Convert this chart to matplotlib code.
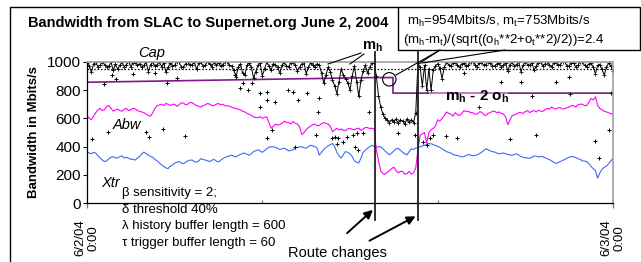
import matplotlib
matplotlib.use("Agg")
import matplotlib.pyplot as plt
from matplotlib.patches import Rectangle, Circle

plt.rcParams['font.family'] = ['Liberation Sans', 'DejaVu Sans']
plt.rcParams['mathtext.fontset'] = 'custom'
plt.rcParams['mathtext.rm'] = 'Liberation Sans'
plt.rcParams['mathtext.bf'] = 'Liberation Sans:bold'

# samples every 6 minutes from 6/2/04 0:00 to 6/3/04 0:00, Mbits/s
hours = [i / 10 for i in range(241)]

cap_v = [990, 970, 925, 985, 995, 965, 975, 1000, 980, 960,
         970, 995, 940, 985, 945, 975, 995, 965, 980, 1000,
         965, 990, 1000, 975, 985, 960, 975, 995, 930, 980,
         995, 970, 980, 1000, 965, 990, 925, 960, 990, 970,
         975, 1000, 995, 965, 960, 985, 1000, 975, 980, 995,
         945, 990, 995, 970, 975, 1000, 985, 965, 1000, 975,
         990, 970, 980, 995, 1000, 975, 970, 940, 895, 960,
         985, 920, 905, 975, 990, 960, 885, 930, 975, 990,
         900, 950, 995, 970, 940, 985, 980, 960, 920, 975,
         995, 970, 965, 990, 1000, 975, 935, 960, 985, 995,
         915, 960, 990, 975, 960, 985, 975, 920, 850, 905,
         960, 930, 870, 830, 775, 860, 950, 905, 880, 850,
         800, 900, 970, 860, 755, 870, 935, 975, 920, 960,
         990, 995, 900, 760, 680, 630, 600, 585, 570, 590,
         575, 595, 565, 590, 580, 560, 595, 575, 590, 570,
         640, 990, 960, 830, 975, 800, 950, 800, 940, 970,
         985, 955, 880, 960, 995, 980, 970, 990, 1000, 975,
         960, 985, 990, 970, 975, 995, 1000, 980, 965, 990,
         995, 975, 980, 1000, 990, 970, 970, 985, 990, 965,
         975, 990, 935, 980, 995, 970, 980, 1000, 930, 975,
         1000, 980, 975, 990, 940, 970, 990, 1000, 970, 985,
         1000, 975, 965, 990, 995, 975, 980, 1000, 1000, 970,
         970, 990, 990, 965, 975, 1000, 995, 975, 965, 985,
         990, 960, 915, 975, 980, 945, 905, 960, 990, 970,
         935]

abw_v = [620, 600, 590, 615, 640, 660, 670, 655, 660, 685,
         690, 670, 650, 660, 665, 655, 650, 665, 670, 655,
         660, 670, 668, 655, 650, 645, 640, 630, 620, 615,
         640, 670, 690, 695, 700, 690, 705, 700, 690, 698,
         700, 685, 695, 710, 708, 695, 700, 712, 710, 700,
         690, 685, 680, 690, 695, 705, 700, 690, 690, 700,
         705, 695, 700, 688, 690, 685, 680, 672, 670, 665,
         660, 650, 645, 635, 630, 620, 610, 605, 605, 612,
         600, 608, 610, 570, 530, 545, 560, 552, 555, 565,
         580, 572, 570, 560, 578, 565, 560, 540, 485, 500,
         520, 535, 545, 555, 560, 548, 550, 562, 570, 565,
         560, 545, 505, 520, 530, 518, 525, 515, 515, 525,
         530, 522, 520, 528, 530, 515, 525, 535, 535, 528,
         530, 525, 380, 300, 230, 210, 205, 220, 230, 245,
         255, 230, 215, 225, 225, 205, 210, 225, 205, 215,
         250, 380, 480, 490, 500, 425, 500, 520, 530, 545,
         590, 580, 600, 620, 645, 635, 630, 615, 640, 625,
         620, 635, 655, 648, 650, 640, 640, 630, 630, 645,
         645, 625, 620, 635, 640, 650, 650, 640, 645, 635,
         630, 610, 555, 590, 620, 625, 630, 640, 640, 635,
         648, 655, 640, 650, 655, 645, 658, 650, 650, 660,
         670, 665, 680, 670, 665, 675, 675, 665, 668, 675,
         680, 690, 690, 680, 695, 700, 700, 690, 690, 715,
         740, 730, 752, 690, 670, 660, 650, 645, 640, 632,
         635]

xtr_v = [365, 355, 350, 360, 355, 335, 320, 305, 295, 300,
         315, 325, 330, 320, 320, 330, 335, 320, 325, 318,
         310, 312, 305, 320, 330, 350, 362, 350, 340, 330,
         325, 310, 300, 285, 272, 260, 250, 245, 262, 270,
         285, 290, 295, 285, 280, 290, 300, 305, 305, 295,
         290, 300, 315, 310, 305, 300, 295, 305, 310, 298,
         292, 305, 315, 325, 330, 335, 340, 332, 328, 338,
         345, 352, 355, 345, 340, 350, 365, 372, 378, 370,
         360, 372, 385, 395, 400, 398, 395, 388, 380, 385,
         390, 380, 370, 375, 378, 388, 395, 398, 400, 392,
         390, 400, 410, 405, 400, 390, 340, 360, 380, 395,
         405, 415, 422, 400, 360, 335, 320, 345, 365, 360,
         350, 330, 300, 290, 285, 320, 360, 375, 390, 400,
         410, 400, 395, 400, 400, 385, 370, 355, 342, 355,
         370, 385, 388, 375, 360, 350, 342, 365, 385, 380,
         390, 395, 400, 405, 410, 415, 422, 420, 415, 408,
         402, 395, 385, 375, 365, 360, 355, 345, 340, 338,
         332, 328, 330, 338, 345, 340, 335, 338, 342, 350,
         360, 372, 385, 378, 370, 365, 362, 355, 350, 352,
         355, 350, 345, 342, 340, 345, 350, 340, 330, 325,
         322, 320, 318, 325, 335, 332, 328, 330, 330, 322,
         315, 308, 300, 290, 282, 288, 295, 302, 310, 318,
         325, 330, 330, 322, 315, 310, 300, 298, 295, 280,
         260, 245, 230, 178, 215, 240, 255, 262, 280, 300,
         318]

# isolated Cap samples that fall below the main band
cap_pts_t = [0.23, 0.78, 0.96, 1.14, 1.32, 2.1, 2.69, 2.83, 3.1, 3.47, 3.65, 4.1, 4.47,
             6.75, 6.98, 7.12, 7.35, 7.53, 7.9, 7.9, 8.21, 8.21, 8.44, 8.21, 8.6, 9.17,
             9.4, 9.49, 9.63, 10.04, 10.45, 10.54, 10.6, 11.18, 11.3, 11.4, 11.45, 11.68,
             11.86, 12.14, 12.23, 12.32, 12.37, 12.6, 12.87, 14.2, 14.97, 15.33, 15.5,
             15.65, 15.79, 16.4, 16.9, 17.2, 17.9, 18.9, 19.3, 19.8, 20.3, 20.5, 21.4,
             22.0, 22.05, 23.2, 23.37, 23.8, 23.9]
cap_pts_v = [454, 842, 503, 905, 875, 910, 503, 469, 919, 525, 851, 882, 477,
             905, 816, 847, 800, 847, 682, 776, 729, 788, 517, 459, 717, 800,
             788, 400, 729, 776, 482, 646, 745, 459, 470, 416, 462, 435,
             470, 482, 400, 494, 376, 494, 646, 494, 482, 435, 411,
             459, 482, 477, 463, 917, 677, 855, 455, 858, 758, 482, 860,
             890, 773, 438, 320, 517, 782]

mh_t = [0.0, 13.14, 13.96, 13.96, 24.0]
mh_v = [855, 888, 888, 778, 778]
mh2_t = [15.65, 19.16]
mh2_v = [776, 776]
dotted_level = 945
route_changes = [13.14, 15.1]

fig = plt.figure(figsize=(6.41, 2.62), dpi=100)
W, H = 641, 262
ax = fig.add_axes([87 / W, 1 - 203.3 / H, 526 / W, 141.6 / H])

ax.plot(hours, xtr_v, color='#3d6cf2', lw=0.8)
ax.plot(hours, abw_v, color='#ff00ff', lw=0.8)
ax.axhline(dotted_level, color='black', lw=0.9, ls=(0, (1.2, 1.5)))
ax.plot(mh_t, mh_v, color='#7f1a86', lw=1.2)
ax.plot(mh2_t, mh2_v, color='#c77dc9', lw=1.4)
ax.plot(hours, cap_v, color='black', lw=0.7, marker='+', ms=3.2, mew=0.6)
ax.plot(cap_pts_t, cap_pts_v, ls='none', color='black', marker='+', ms=3.5, mew=0.7)
for rc in route_changes:
    ax.plot([rc, rc], [-118, 1070], color='#202020', lw=1.3, clip_on=False, zorder=5)

ax.set_xlim(0, 24)
ax.set_ylim(0, 1000)
ax.set_yticks([0, 200, 400, 600, 800, 1000])
ax.set_xticks([0, 24])
ax.set_xticklabels(['6/2/04\n0:00', '6/3/04\n0:00'], rotation=90, ha='center',
                   va='top', multialignment='center')
ax.set_xticks([8, 16], minor=True)
ax.tick_params(axis='y', length=3, width=0.8, pad=1.5, labelsize=11)
ax.tick_params(axis='x', which='major', length=3.6, width=1, pad=8, labelsize=9.5,
               color='#808080')
ax.tick_params(axis='x', which='minor', direction='in', length=2.5, width=1,
               color='#808080')
for s in ['top', 'right']:
    ax.spines[s].set_color('#a0a0a0')
    ax.spines[s].set_linewidth(1.2)
ax.spines['left'].set_linewidth(0.9)
ax.spines['bottom'].set_linewidth(0.9)
ax.set_ylabel('Bandwidth in Mbits/s', fontsize=9.5, fontweight='bold', labelpad=5)

# annotation layer in pixel coordinates
ov = fig.add_axes([0, 0, 1, 1], zorder=10)
ov.set_xlim(0, W)
ov.set_ylim(H, 0)
ov.axis('off')
ov.patch.set_alpha(0)

ov.plot([10, 10, 398], [262, 7, 7], color='black', lw=1)
ov.add_patch(Rectangle((398, 7), 242, 43, fc='white', ec='black', lw=1))
ov.text(28, 23, 'Bandwidth from SLAC to Supernet.org June 2, 2004', fontsize=10.5,
        fontweight='bold', va='center')
ov.text(407, 21, r'm$_\mathrm{h}$=954Mbits/s, m$_\mathrm{t}$=753Mbits/s', fontsize=9.5,
        va='center')
ov.text(403, 40, r'(m$_\mathrm{h}$-m$_\mathrm{t}$)/(sqrt((o$_\mathrm{h}$**2+o$_\mathrm{t}$**2)/2))=2.4',
        fontsize=9.5, va='center')

ov.text(372, 47, r'm$_\mathbf{h}$', fontsize=10.5, fontweight='bold', ha='center',
        va='center')
ov.plot([361, 328], [53, 64], color='black', lw=0.8)
ov.plot([364, 350], [54, 64], color='black', lw=0.8)
ov.add_patch(Circle((389.3, 79.3), 6.7, fc='none', ec='black', lw=0.8))
ov.plot([440, 396], [50, 75], color='black', lw=0.8)
ov.plot([440, 420], [50, 63], color='black', lw=0.8)
ov.plot([505, 422], [50, 63], color='black', lw=0.8)

ov.text(445, 97, r'm$_\mathbf{h}$ - 2 o$_\mathbf{h}$', fontsize=11, fontweight='bold',
        va='center')
ov.text(152, 53, 'Cap', fontsize=10.5, style='italic', ha='center', va='center')
ov.text(113, 125, 'Abw', fontsize=10.5, style='italic', va='center')
ov.text(101, 183, 'Xtr', fontsize=10.5, style='italic', va='center')

params = ['\u03b2 sensitivity = 2;', '\u03b4 threshold 40%',
          '\u03bb history buffer length = 600', '\u03c4 trigger buffer length = 60']
for i, line in enumerate(params):
    ov.text(122, 193 + i * 16.7, line, fontsize=9.5, va='center')

ov.text(288, 253, 'Route changes', fontsize=10.5, va='center')
ov.annotate('', xy=(375, 208), xytext=(345, 235),
            arrowprops=dict(arrowstyle='-|>,head_length=0.5,head_width=0.25',
                            color='black', lw=1.4))
ov.annotate('', xy=(418, 215), xytext=(367, 242),
            arrowprops=dict(arrowstyle='-|>,head_length=0.5,head_width=0.25',
                            color='black', lw=1.4))

fig.savefig('out.png', dpi=100)
